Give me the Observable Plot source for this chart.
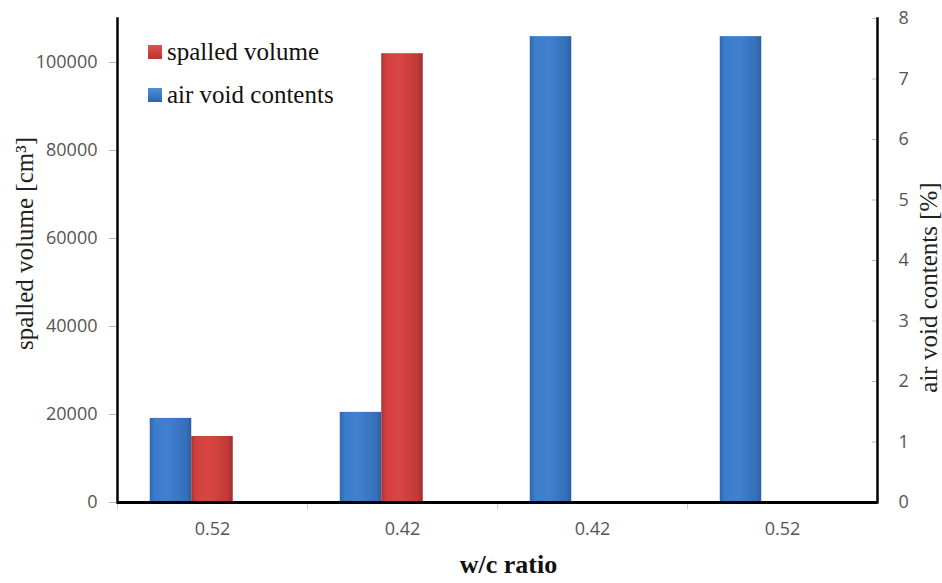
<!DOCTYPE html>
<html>
<head>
<meta charset="utf-8">
<script src="https://cdn.jsdelivr.net/npm/d3@7"></script>
<script src="https://cdn.jsdelivr.net/npm/@observablehq/plot@0.6"></script>
<style>
  html, body { margin: 0; padding: 0; background: #fff; }
  #wrap { position: relative; width: 942px; height: 583px; }
  .legend { position: absolute; left: 148px; font-family: "Liberation Serif", serif; font-size: 25px; color: #111; display: flex; align-items: center; line-height: 1; }
  .legend span.sw { display: inline-block; width: 14px; height: 14px; margin-right: 5px; }
</style>
</head>
<body>
<div id="wrap"></div>
<script>
// ---- data ----
const categories = ["0.52", "0.42", "0.42", "0.52"];
const spalledVolume = [15000, 102000, 0, 0];          // cm³ (left axis)
const airVoidContents = [1.39, 1.49, 7.70, 7.70];     // % (right axis)
const leftTicks = [0, 20000, 40000, 60000, 80000, 100000];
const rightTicks = [0, 1, 2, 3, 4, 5, 6, 7, 8];
const seriesNames = ["spalled volume", "air void contents"];

// ---- layout ----
const W = 942, H = 583;
const mL = 117, mR = 65, mT = 18, mB = 81;
const leftMax = 110000, rightMax = 8;
const k = leftMax / rightMax; // maps right-axis % onto left scale
const band = (W - mL - mR) / categories.length;
const barW = 41.5;
const outer = (band - 3 * barW) / 2;

const idx = categories.map((_, i) => i);
const airData = idx.map(i => ({i, v: airVoidContents[i]}));
const spData = idx.map(i => ({i, v: spalledVolume[i]})).filter(d => d.v > 0);

const tickFont = "'Open Sans', 'DejaVu Sans', sans-serif";
const serif = "'Liberation Serif', 'DejaVu Serif', serif";

const plot = Plot.plot({
  width: W, height: H,
  marginLeft: mL, marginRight: mR, marginTop: mT, marginBottom: mB,
  style: {background: "#fff", overflow: "visible"},
  x: {type: "band", domain: idx, padding: 0, axis: null},
  y: {domain: [0, leftMax], axis: null},
  marks: [
    // bars
    Plot.barY(airData, {
      x: "i", y: d => d.v * k,
      insetLeft: outer, insetRight: band - outer - barW,
      fill: "url(#gradBlue)"
    }),
    Plot.barY(spData, {
      x: "i", y: "v",
      insetLeft: outer + barW, insetRight: band - outer - 2 * barW,
      fill: "url(#gradRed)"
    }),
    // left axis
    Plot.axisY({
      anchor: "left", ticks: leftTicks, tickFormat: d => String(d),
      tickSize: 8, tickPadding: 12,
      stroke: "#bbb", fill: "#555", fontSize: 18, fontFamily: tickFont,
      label: null
    }),
    // right axis
    Plot.axisY({
      anchor: "right", ticks: rightTicks.map(v => v * k),
      tickFormat: d => String(Math.round(d / k)),
      tickSize: -6, tickPadding: 27,
      stroke: "#bbb", fill: "#555", fontSize: 18, fontFamily: tickFont,
      label: null
    }),
    // x axis: boundary ticks
    Plot.axisX({
      anchor: "bottom", tickSize: 7, dx: -band / 2, text: null, stroke: "#ccc", label: null
    }),
    // x axis labels
    Plot.axisX({
      anchor: "bottom", tickSize: 0, tickPadding: 20,
      tickFormat: i => categories[i],
      fill: "#555", fontSize: 18, fontFamily: tickFont, label: null
    }),
    // frame lines
    Plot.frame({anchor: "left", stroke: "#000", strokeWidth: 2.5}),
    Plot.frame({anchor: "right", stroke: "#000", strokeWidth: 2.5}),
    Plot.ruleY([0], {stroke: "#000", strokeWidth: 3}),
    // axis titles
    Plot.text(["spalled volume [cm³]"], {
      frameAnchor: "left", textAnchor: "middle", dx: -93, dy: -17, rotate: -90,
      fontSize: 25, fontFamily: serif, fill: "#222"
    }),
    Plot.text(["air void contents [%]"], {
      frameAnchor: "right", textAnchor: "middle", dx: 51, dy: 27, rotate: -90,
      fontSize: 25, fontFamily: serif, fill: "#222"
    }),
    Plot.text(["w/c ratio"], {
      frameAnchor: "bottom", textAnchor: "middle", dx: 11, dy: 70,
      fontSize: 26, fontWeight: "bold", fontFamily: serif, fill: "#111"
    })
  ]
});

// gradients for bars
const svg = d3.select(plot);
const defs = svg.insert("defs", ":first-child");
function grad(id, stops) {
  const g = defs.append("linearGradient").attr("id", id).attr("x1", "0").attr("x2", "1").attr("y1", "0").attr("y2", "0");
  stops.forEach(([o, c]) => g.append("stop").attr("offset", o).attr("stop-color", c));
}
grad("gradBlue", [[0, "#2f67ad"], [0.12, "#3b7ccb"], [0.45, "#3f80cf"], [0.88, "#3570b9"], [1, "#2c5f9f"]]);
grad("gradRed", [[0, "#a93331"], [0.12, "#d2413f"], [0.45, "#d94543"], [0.88, "#c03a38"], [1, "#9e2f2d"]]);

document.getElementById("wrap").appendChild(plot);

// legend
const legendColors = ["linear-gradient(#e0524f,#b83432)", "linear-gradient(#4d8fdc,#2d64aa)"];
seriesNames.forEach((name, j) => {
  const div = document.createElement("div");
  div.className = "legend";
  div.style.top = (39 + j * 43) + "px";
  div.innerHTML = `<span class="sw" style="background:${legendColors[j]}"></span>${name}`;
  document.getElementById("wrap").appendChild(div);
});
</script>
</body>
</html>
